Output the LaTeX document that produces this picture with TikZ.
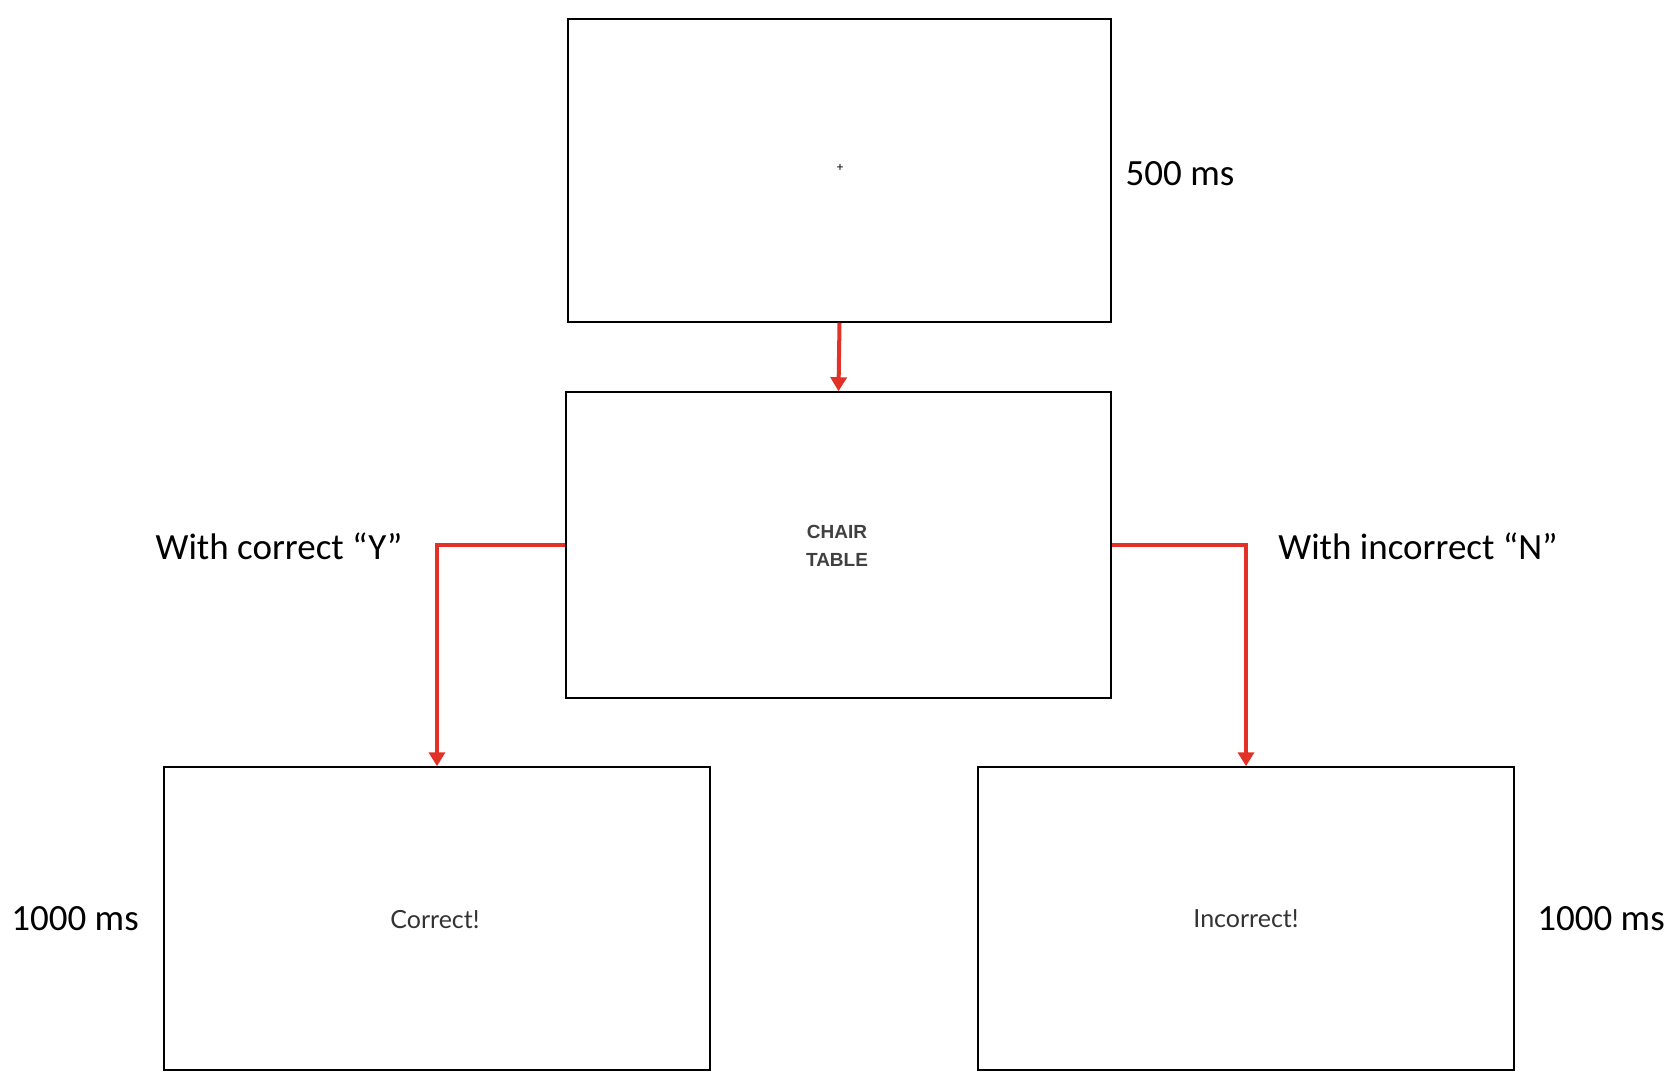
\documentclass[tikz,border=0pt]{standalone}
\usepackage{fontspec}
\setmainfont{Carlito}
\newfontfamily\latof{Lato}
\newfontfamily\arialf{Liberation Sans}
\usetikzlibrary{arrows.meta}
\definecolor{arr}{RGB}{226,50,40}
\begin{document}
\begin{tikzpicture}[x=1pt,y=-1pt,
  screen/.style={draw=black,line width=1.5pt,inner sep=0},
  conn/.style={draw=arr,line width=4pt,-{Triangle[width=16pt,length=14pt]}},
  lab/.style={font=\fontsize{37}{44}\selectfont},
  msg/.style={font=\latof\fontsize{25}{30}\selectfont,text=black!80}]
\useasboundingbox (0,0) rectangle (1676,1074);
\node[screen,minimum width=543,minimum height=303] (top) at (839.5,170.5) {};
\node[screen,minimum width=545,minimum height=306] (mid) at (838.5,545) {};
\node[screen,minimum width=546,minimum height=303] (bl) at (437,918.5) {};
\node[screen,minimum width=536,minimum height=303] (br) at (1246,918.5) {};
\node at (840,168) {\fontsize{13}{15}\selectfont +};
\node[align=center,font=\arialf\bfseries\fontsize{19}{28}\selectfont,text=black!75] (words) at (837,546) {CHAIR\\TABLE};
\node[msg] (c) at (435,920) {Correct!};
\node[msg] (ic) at (1246,919) {Incorrect!};
\node[lab] (t1) at (1180,174) {500 ms};
\node[lab] (t2) at (279,546) {With correct “Y”};
\node[lab] (t3) at (1418,546) {With incorrect “N”};
\node[lab] (t4) at (75,919) {1000 ms};
\node[lab] (t5) at (1601,919) {1000 ms};
\draw[conn] (top.south) -- (mid.north);
\draw[conn] (mid.west) -| (bl.north);
\draw[conn] (mid.east) -| (br.north);
\end{tikzpicture}
\end{document}
